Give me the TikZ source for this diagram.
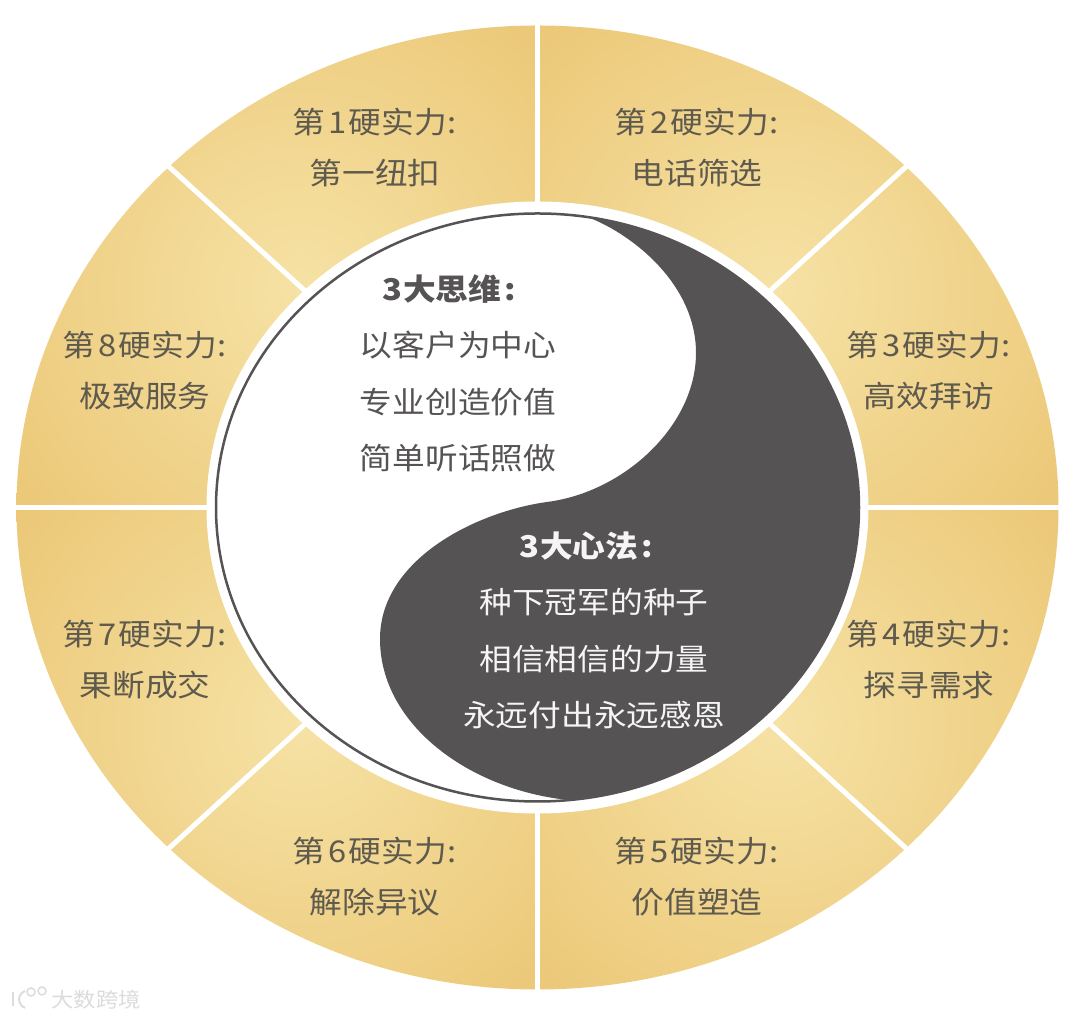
\documentclass[tikz,border=0pt]{standalone}
\usepackage{fontspec}
\setmainfont{Noto Sans CJK SC}[FakeStretch=1.09]
\usetikzlibrary{positioning}
\definecolor{GoldLight}{HTML}{F6E2A5}
\definecolor{GoldDark}{HTML}{E9C26D}
\definecolor{MindClr}{HTML}{565354}
\definecolor{GoldTextClr}{HTML}{5F5A4E}
\definecolor{MarkClr}{HTML}{DCDCDC}
\pgfdeclareradialshading{goldfade}{\pgfpoint{0bp}{0bp}}{color(0bp)=(GoldLight); color(21bp)=(GoldDark); color(50bp)=(GoldDark)}
\tikzset{
  plaintxt/.style={inner sep=0pt,font=\fontsize{30}{30}\selectfont},
  goldtxt/.style={plaintxt,text=GoldTextClr},
  whitetxt/.style={plaintxt,text=MindClr},
  darktxt/.style={plaintxt,text=white!94!MindClr},
  divider/.style={white,line width=5pt},
}
\newcommand{\GoldQuadrant}[6]{\begin{scope}\clip (#1,#2) rectangle (#3,#4);\shade[shading=goldfade] (#5,#6) circle (520);\end{scope}}
\newcommand{\HardPower}[5]{\node[goldtxt] (#1title) at (#2,#3) {第\kern2.5pt#4\kern2.5pt硬实力\kern1pt:};
\node[goldtxt,anchor=center] (#1name) at (#2,#3-51) {#5};}
\begin{document}
\begin{tikzpicture}[x=1pt,y=1pt]
\useasboundingbox (0,0) rectangle (1080,1019);
\fill[white] (0,0) rectangle (1080,1019);
\begin{scope}
\clip (537.5,511.5) ellipse [x radius=521,y radius=482];
\GoldQuadrant{0}{511.5}{537.5}{1019}{300}{729}
\GoldQuadrant{537.5}{511.5}{1080}{1019}{775}{729}
\GoldQuadrant{537.5}{0}{1080}{511.5}{775}{294}
\GoldQuadrant{0}{0}{537.5}{511.5}{300}{294}
\end{scope}
\begin{scope}[shift={(537.5,511.5)}]
\draw[divider] (0:300 and 280) -- (0:530 and 490);
\draw[divider] (45:300 and 280) -- (45:530 and 490);
\draw[divider] (90:300 and 280) -- (90:530 and 490);
\draw[divider] (135:300 and 280) -- (135:530 and 490);
\draw[divider] (180:300 and 280) -- (180:530 and 490);
\draw[divider] (225:300 and 280) -- (225:530 and 490);
\draw[divider] (270:300 and 280) -- (270:530 and 490);
\draw[divider] (315:300 and 280) -- (315:530 and 490);
\fill[white] (0,0) ellipse [x radius=331,y radius=306];
\end{scope}
% dark half, along the S line
\fill[MindClr] (587.8,801.9) .. controls (634,784) and (696,734) .. (696,666)
  .. controls (696,594) and (625,527) .. (547,517)
  .. controls (475,507) and (380,459) .. (380,380)
  .. controls (380,294) and (470,229) .. (568.9,218.9)
  arc [start angle=-84.4,end angle=81,x radius=321.5,y radius=294] -- cycle;
\draw[MindClr,line width=2.5pt] (537.5,511.5) ellipse [x radius=321.5,y radius=294];
\HardPower{one}{375}{897}{1}{第一纽扣}
\HardPower{two}{697}{897}{2}{电话筛选}
\HardPower{three}{929}{674}{3}{高效拜访}
\HardPower{four}{929}{385}{4}{探寻需求}
\HardPower{five}{697}{168}{5}{价值塑造}
\HardPower{six}{375}{168}{6}{解除异议}
\HardPower{seven}{145}{385}{7}{果断成交}
\HardPower{eight}{145}{674}{8}{极致服务}
\node[whitetxt,font=\fontsize{30}{30}\selectfont\bfseries] (thinktitle) at (449,730) {3\kern1pt大思维\kern3pt:};
\node[whitetxt] (thinka) at (458,674) {以客户为中心};
\node[whitetxt] (thinkb) at (458,617) {专业创造价值};
\node[whitetxt] (thinkc) at (458,561) {简单听话照做};
\node[darktxt,font=\fontsize{30}{30}\selectfont\bfseries] (hearttitle) at (586,473) {3\kern1pt大心法\kern3pt:};
\node[darktxt] (hearta) at (594,417) {种下冠军的种子};
\node[darktxt] (heartb) at (594,360) {相信相信的力量};
\node[darktxt] (heartc) at (594,304) {永远付出永远感恩};
% watermark
\draw[MarkClr,line width=2pt] (13,27) -- (13,13);
\draw[MarkClr,line width=2pt] (25,28) arc [start angle=110,end angle=250,radius=9];
\draw[MarkClr,line width=1.5pt] (31,27) circle (4) (42,28) circle (4);
\node[inner sep=0pt,text=MarkClr,font=\fontsize{20.5}{20.5}\selectfont] (mark) at (96,19) {大数跨境};
\end{tikzpicture}
\end{document}
